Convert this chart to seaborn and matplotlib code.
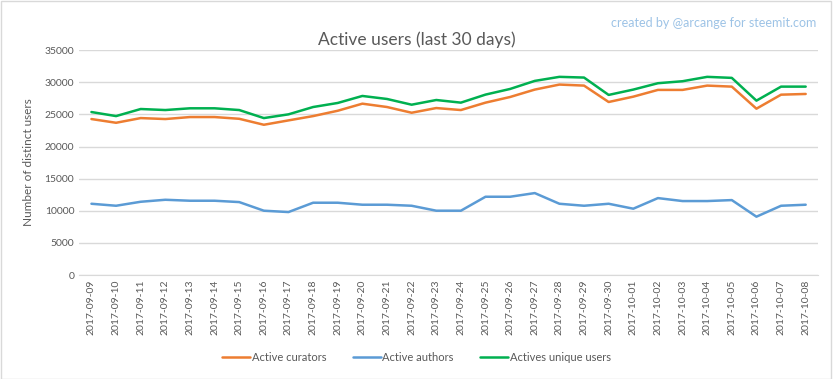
import matplotlib
matplotlib.use("Agg")
from matplotlib import pyplot as plt
import seaborn as sns
import pandas as pd

# data
dates = ["2017-09-09", "2017-09-10", "2017-09-11", "2017-09-12", "2017-09-13",
         "2017-09-14", "2017-09-15", "2017-09-16", "2017-09-17", "2017-09-18",
         "2017-09-19", "2017-09-20", "2017-09-21", "2017-09-22", "2017-09-23",
         "2017-09-24", "2017-09-25", "2017-09-26", "2017-09-27", "2017-09-28",
         "2017-09-29", "2017-09-30", "2017-10-01", "2017-10-02", "2017-10-03",
         "2017-10-04", "2017-10-05", "2017-10-06", "2017-10-07", "2017-10-08"]

curators = [24270, 23690, 24420, 24270, 24580, 24580, 24310, 23380, 24060, 24730,
            25560, 26660, 26140, 25250, 25980, 25670, 26820, 27700, 28850, 29630,
            29470, 26920, 27750, 28800, 28800, 29470, 29310, 25880, 28060, 28170]

authors = [11100, 10790, 11410, 11720, 11570, 11570, 11360, 10020, 9810, 11260,
           11260, 10950, 10950, 10790, 10020, 10020, 12190, 12190, 12760, 11100,
           10790, 11100, 10330, 11980, 11520, 11520, 11670, 9090, 10790, 10950]

unique_users = [25360, 24730, 25830, 25670, 25940, 25940, 25670, 24420, 25000, 26140,
                26770, 27860, 27390, 26500, 27230, 26820, 28070, 28950, 30200, 30830,
                30720, 28020, 28850, 29840, 30150, 30830, 30670, 27130, 29310, 29310]

series_names = ["Active curators", "Active authors", "Actives unique users"]
colors = ["#ED7D31", "#5B9BD5", "#00B050"]

df = pd.DataFrame({"date": dates,
                   series_names[0]: curators,
                   series_names[1]: authors,
                   series_names[2]: unique_users})
long_df = df.melt(id_vars="date", var_name="series", value_name="users")

sns.set_style("white")
plt.rcParams["font.family"] = ["Lato", "DejaVu Sans"]

fig = plt.figure(figsize=(8.33, 3.79), dpi=100)
ax = fig.add_axes([0.095, 0.274, 0.887, 0.594])

sns.lineplot(data=long_df, x="date", y="users", hue="series",
             palette=colors, hue_order=series_names, linewidth=1.8, ax=ax)

ax.set_xlim(-0.5, len(dates) - 0.5)
ax.set_ylim(0, 35000)
ax.set_yticks(range(0, 35001, 5000))
ax.yaxis.grid(True, color="#D9D9D9", linewidth=1)
ax.set_axisbelow(True)
for side in ["top", "right", "left"]:
    ax.spines[side].set_visible(False)
ax.spines["bottom"].set_color("#D9D9D9")
ax.tick_params(axis="both", length=0, labelsize=7.5, labelcolor="#595959")
ax.tick_params(axis="x", rotation=90, pad=3)
ax.set_xlabel("")
ax.set_ylabel("Number of distinct users", fontsize=8.5, color="#595959", labelpad=8)

handles, labels = ax.get_legend_handles_labels()
ax.get_legend().remove()
fig.legend(handles, labels, loc="center", bbox_to_anchor=(0.5, 0.058), ncol=3,
           frameon=False, fontsize=8, handlelength=2.5, columnspacing=2.4,
           handletextpad=0.15, labelcolor="#595959")

fig.text(0.5, 0.895, "Active users (last 30 days)", ha="center", va="center",
         fontsize=12.5, color="#595959")
fig.text(0.98, 0.94, "created by @arcange for steemit.com", ha="right", va="center",
         fontsize=9, color="#9DC3E6")

fig.patches.append(plt.Rectangle((0.001, 0.001), 0.997, 0.997, transform=fig.transFigure,
                                 fill=False, edgecolor="#D9D9D9", linewidth=1))

fig.savefig("out.png", dpi=100)
